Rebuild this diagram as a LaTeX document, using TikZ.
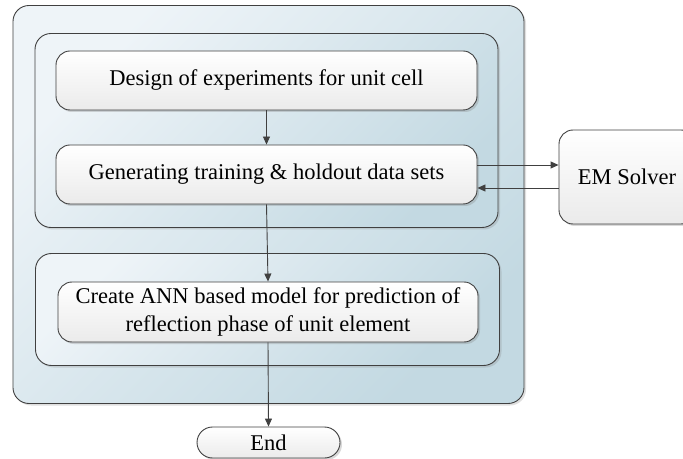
\documentclass[tikz,border=0pt]{standalone}
\usepackage{fontspec}
\setmainfont{Liberation Serif}
\usetikzlibrary{shadows,arrows.meta}
\definecolor{bluelight}{HTML}{EEF4F8}
\definecolor{bluedark}{HTML}{C3D9E2}
\definecolor{linec}{HTML}{404040}
\begin{document}
\begin{tikzpicture}[x=1bp,y=-1bp,
  container/.style={draw=linec, line width=0.9bp, rounded corners=16bp,
    top color=bluelight, bottom color=bluedark, shading angle=45,
    drop shadow={opacity=0.25, shadow xshift=2bp, shadow yshift=-2bp}},
  procbox/.style={draw=linec, line width=0.9bp, rounded corners=14bp,
    top color=white, bottom color=black!8,
    drop shadow={opacity=0.3, shadow xshift=2bp, shadow yshift=-2bp},
    font=\fontsize{22.5bp}{28bp}\selectfont, align=center, inner sep=0pt},
  arr/.style={draw=linec, line width=0.9bp, -{Triangle[length=8bp,width=7bp]}}
]
\useasboundingbox (0,0) rectangle (683,459);
\node[container, minimum width=511bp, minimum height=398bp] (outer) at (268.5,204.5) {};
\node[container, minimum width=463bp, minimum height=194bp] (inner1) at (266.5,130.5) {};
\node[container, minimum width=464bp, minimum height=112bp] (inner2) at (267.5,309.5) {};
\node[procbox, minimum width=421bp, minimum height=59bp] (design) at (266.5,80.5) {Design of experiments for unit cell};
\node[procbox, minimum width=421bp, minimum height=59bp] (gen) at (266.5,174.5) {Generating training \& holdout data sets};
\node[procbox, minimum width=420bp, minimum height=60bp] (ann) at (268,312) {Create ANN based model for prediction of\\reflection phase of unit element};
\node[procbox, minimum width=136bp, minimum height=94bp] (em) at (627,177) {EM Solver};
\node[procbox, rounded corners=15.5bp, minimum width=143bp, minimum height=31bp] (end) at (268.5,442.5) {End};
\draw[arr] (design.south) -- (gen.north);
\draw[arr] (gen.south) -- (ann.north);
\draw[arr] (ann.south) -- (end.north);
\coordinate (g1) at ([yshift=9.5bp]gen.east);
\coordinate (g2) at ([yshift=-13.5bp]gen.east);
\draw[arr] (g1) -- (g1 -| em.west);
\draw[arr] (g2 -| em.west) -- (g2);
\end{tikzpicture}
\end{document}
